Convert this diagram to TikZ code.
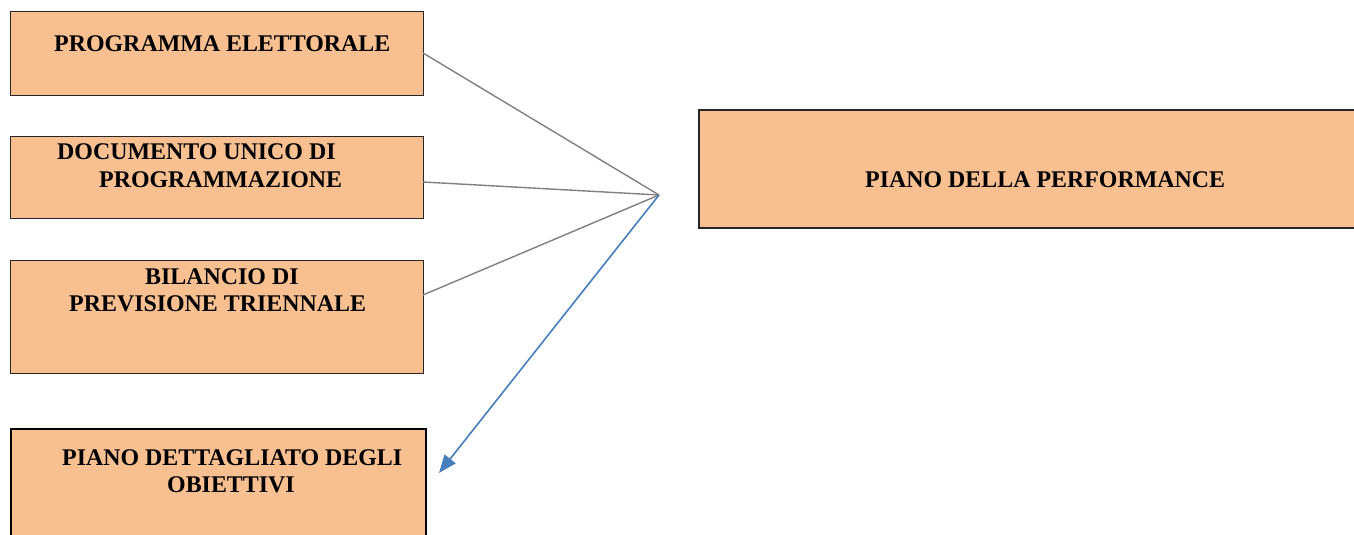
\documentclass[tikz,border=0pt]{standalone}
\usepackage{fontspec}
\setmainfont{Liberation Serif}
\usetikzlibrary{arrows.meta,calc}
\definecolor{boxfill}{RGB}{248,191,144}
\definecolor{linkgray}{RGB}{128,128,128}
\definecolor{linkblue}{RGB}{70,126,190}
\begin{document}
\begin{tikzpicture}[x=1pt,y=-1pt,
  box/.style={draw=black!85,line width=1pt,fill=boxfill,rectangle,inner sep=0pt,outer sep=0pt},
  lbl/.style={anchor=base west,inner sep=0pt,font=\fontsize{23.9}{28}\selectfont\bfseries},
  link/.style={draw=linkgray,line width=1.4pt},
  flow/.style={draw=linkblue,line width=1.6pt,-{Triangle[length=18pt,width=14pt]}}]
\useasboundingbox (0,0) rectangle (1354,535);
% boxes
\node[box,anchor=north west,minimum width=413pt,minimum height=83pt] (b1) at (10,12) {};
\node[box,anchor=north west,minimum width=413pt,minimum height=82pt] (b2) at (10,136) {};
\node[box,anchor=north west,minimum width=413pt,minimum height=113pt] (b3) at (10,260) {};
\node[box,anchor=north west,minimum width=415pt,minimum height=116pt,line width=2pt,draw=black] (b4) at (11,429) {};
\node[box,anchor=north west,minimum width=665pt,minimum height=118pt,line width=1.3pt] (b5) at (699,110) {};
% labels
\node[lbl] (t1) at (54,52) {PROGRAMMA ELETTORALE};
\node[lbl] (t2a) at (57,159) {DOCUMENTO UNICO DI};
\node[lbl] (t2b) at (99,187) {PROGRAMMAZIONE};
\node[lbl] (t3a) at (145,284) {BILANCIO DI};
\node[lbl] (t3b) at (69,311) {PREVISIONE TRIENNALE};
\node[lbl] (t4a) at (62,465) {PIANO DETTAGLIATO DEGLI};
\node[lbl] (t4b) at (167,492) {OBIETTIVI};
\node[lbl] (t5) at (865,187) {PIANO DELLA PERFORMANCE};
% connectors
\coordinate (hub) at (659,195);
\coordinate (tip) at (439,473);
\draw[link] ($(b1.north east)+(0,41)$) -- (hub);
\draw[link] ($(b2.north east)+(0,46)$) -- (hub);
\draw[link] ($(b3.north east)+(0,35)$) -- (hub);
\draw[flow] (hub) -- (tip);
\end{tikzpicture}
\end{document}
